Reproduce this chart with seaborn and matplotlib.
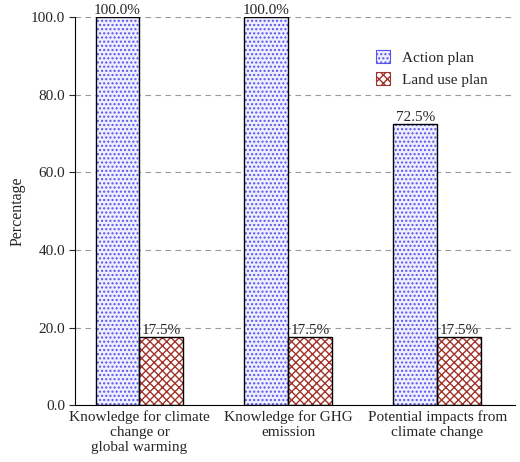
import matplotlib
matplotlib.use("Agg")
import matplotlib.pyplot as plt
import seaborn as sns
import pandas as pd
from matplotlib.patches import Rectangle

categories = ["Knowledge for climate\nchange or\nglobal warming", "Knowledge for GHG\nemission", "Potential impacts from\nclimate change"]
action_plan = [100.0, 100.0, 72.5]
land_use_plan = [17.5, 17.5, 17.5]
series = ["Action plan", "Land use plan"]

df = pd.DataFrame({
    "cat": categories * 2,
    "val": action_plan + land_use_plan,
    "series": [series[0]] * 3 + [series[1]] * 3,
})

sns.set_style("white")
plt.rcParams["font.family"] = ["Liberation Serif", "DejaVu Serif"]
plt.rcParams["hatch.linewidth"] = 1.0

fig, ax = plt.subplots(figsize=(5.2, 4.62), dpi=100)
sns.barplot(data=df, x="cat", y="val", hue="series", palette=["#ffffff", "#ffffff"],
            width=0.59, gap=0.0, ax=ax, saturation=1)

hatches = {series[0]: ("....", "#5555ee", "#eeeeff"), series[1]: ("xxxx", "#a0332a", "#ffffff")}
for cont, s in zip(ax.containers, series):
    h, hc, fc = hatches[s]
    for p in cont.patches:
        p.set_hatch(h); p.set_edgecolor(hc); p.set_facecolor(fc); p.set_linewidth(0)
        ax.add_patch(Rectangle(p.get_xy(), p.get_width(), p.get_height(), fill=False,
                               edgecolor="black", linewidth=1.0, zorder=3))
    ax.bar_label(cont, labels=[f"{v:.1f}%" for v in cont.datavalues], padding=0, fontsize=11)

ax.set_xlim(-0.43, 2.52)
ax.set_ylim(0, 100)
ax.set_yticks(range(0, 101, 20))
ax.set_yticklabels([f"{v:.1f}" for v in range(0, 101, 20)], fontsize=11)
ax.tick_params(axis="x", labelsize=11, length=0)
ax.tick_params(axis="y", length=4, left=True, direction="out")
ax.yaxis.grid(True, linestyle=(0, (5, 4)), color="#999999", linewidth=0.8)
ax.set_axisbelow(True)
ax.set_xlabel("")
ax.set_ylabel("Percentage", fontsize=11.5)
for s in ["top", "right"]:
    ax.spines[s].set_visible(False)
for s in ["left", "bottom"]:
    ax.spines[s].set_color("black")

leg = ax.legend(frameon=False, loc="upper right", bbox_to_anchor=(0.97, 0.95), fontsize=11,
                handlelength=0.9, handleheight=0.9)
for hp, s in zip(leg.legend_handles, series):
    h, hc, fc = hatches[s]
    hp.set_hatch(h); hp.set_facecolor(fc); hp.set_edgecolor(hc); hp.set_linewidth(0.8)

plt.subplots_adjust(left=0.145, right=0.99, top=0.963, bottom=0.123)
fig.savefig("out.png", dpi=100)
